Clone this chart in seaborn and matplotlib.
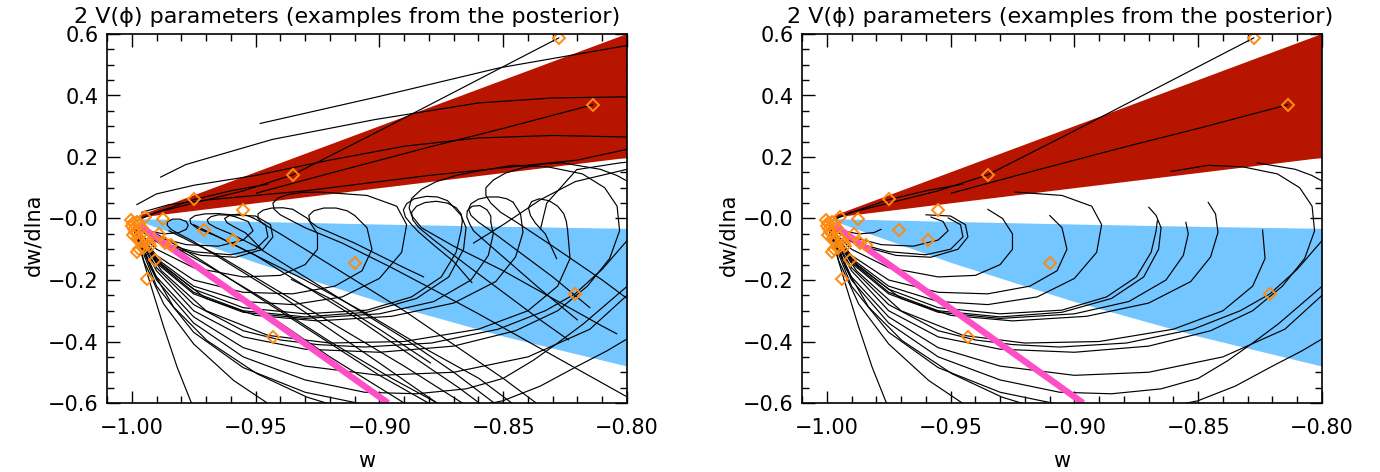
import numpy as np
import pandas as pd
import matplotlib
matplotlib.use("Agg")
import matplotlib.pyplot as plt
import seaborn as sns
from matplotlib.ticker import FixedLocator, FixedFormatter, MultipleLocator

sns.set_theme(style="white")
plt.rcParams["font.family"] = ["DejaVu Sans"]

# ---------------- text / ticks ----------------
TITLE = "2 V(ϕ) parameters (examples from the posterior)"
XLABEL = "w"
YLABEL = "dw/dlna"
XTICKS = [-1.00, -0.95, -0.90, -0.85, -0.80]
XTICK_LABELS = ["−1.00", "−0.95", "−0.90", "−0.85", "−0.80"]
YTICKS = [0.6, 0.4, 0.2, 0.0, -0.2, -0.4, -0.6]
YTICK_LABELS = ["0.6", "0.4", "0.2", "−0.0", "−0.2", "−0.4", "−0.6"]

# ---------------- regions ----------------
THAW_W = [-1.0, -0.80, -0.80]
THAW_Y = [0.0, 0.60, 0.197]
FREEZE_W = [-1.0, -0.95, -0.90, -0.85, -0.80]
FREEZE_LO = [0.0, -0.1425, -0.27, -0.3825, -0.48]
FREEZE_HI = [0.0, -0.0095, -0.018, -0.0255, -0.032]
MAGENTA_W = [-0.9965, -0.8965]
MAGENTA_Y = [-0.025, -0.60]

# ---------------- trajectories shown in both panels ----------------
STEEP_CURVES = [
    [(-0.9992, -0.017), (-0.9965, -0.104), (-0.9925, -0.2125), (-0.9871, -0.353), (-0.9817, -0.483), (-0.9763, -0.592), (-0.9745, -0.625)],
    [(-0.9986, -0.023), (-0.9952, -0.137), (-0.9871, -0.278), (-0.975, -0.408), (-0.9588, -0.527), (-0.9427, -0.614)],
    [(-0.9979, -0.028), (-0.9925, -0.158), (-0.9831, -0.288), (-0.9696, -0.397), (-0.9494, -0.505), (-0.9292, -0.581), (-0.9158, -0.614)],
]

DIP_ARCS = [
    [(-0.999, -0.02), (-0.994, -0.04), (-0.987, -0.05), (-0.981, -0.046), (-0.978, -0.035)],
    [(-0.999, -0.02), (-0.99, -0.06), (-0.978, -0.085), (-0.965, -0.09), (-0.955, -0.07), (-0.951, -0.04), (-0.953, -0.01), (-0.958, 0.005)],
    [(-0.999, -0.025), (-0.99, -0.075), (-0.975, -0.108), (-0.96, -0.118), (-0.95, -0.1), (-0.945, -0.06), (-0.946, -0.02), (-0.951, 0.002)],
    [(-0.999, -0.025), (-0.988, -0.085), (-0.972, -0.12), (-0.958, -0.126), (-0.947, -0.1), (-0.943, -0.06), (-0.944, -0.02), (-0.95, 0.008), (-0.96, 0.012)],
    [(-0.999, -0.03), (-0.99, -0.1), (-0.975, -0.16), (-0.955, -0.19), (-0.94, -0.185), (-0.93, -0.15), (-0.925, -0.1), (-0.925, -0.05), (-0.929, 0.0), (-0.935, 0.03)],
    [(-0.999, -0.03), (-0.99, -0.12), (-0.975, -0.2), (-0.955, -0.24), (-0.935, -0.245), (-0.918, -0.22), (-0.907, -0.17), (-0.903, -0.1), (-0.905, -0.03), (-0.91, 0.01)],
    [(-0.999, -0.03), (-0.99, -0.13), (-0.975, -0.22), (-0.955, -0.27), (-0.935, -0.28), (-0.915, -0.255), (-0.9, -0.195), (-0.891, -0.11), (-0.889, -0.02), (-0.893, 0.04), (-0.905, 0.075), (-0.924, 0.086)],
    [(-0.999, -0.03), (-0.99, -0.14), (-0.975, -0.24), (-0.955, -0.3), (-0.93, -0.32), (-0.905, -0.305), (-0.885, -0.26), (-0.872, -0.19), (-0.866, -0.1), (-0.865, -0.03), (-0.867, 0.01), (-0.87, 0.037)],
    [(-0.999, -0.03), (-0.99, -0.135), (-0.975, -0.23), (-0.955, -0.29), (-0.93, -0.31), (-0.905, -0.298), (-0.887, -0.255), (-0.875, -0.19), (-0.869, -0.11), (-0.867, -0.04), (-0.8665, -0.007)],
    [(-0.999, -0.03), (-0.99, -0.145), (-0.975, -0.245), (-0.955, -0.305), (-0.93, -0.325), (-0.9, -0.31), (-0.878, -0.27), (-0.863, -0.2), (-0.856, -0.12), (-0.854, -0.05), (-0.855, -0.012)],
    [(-0.999, -0.03), (-0.988, -0.15), (-0.97, -0.26), (-0.95, -0.315), (-0.925, -0.333), (-0.895, -0.318), (-0.87, -0.275), (-0.853, -0.205), (-0.845, -0.125), (-0.842, -0.045), (-0.843, 0.015), (-0.846, 0.053)],
    [(-0.999, -0.035), (-0.988, -0.17), (-0.97, -0.3), (-0.945, -0.38), (-0.92, -0.405), (-0.89, -0.4), (-0.86, -0.36), (-0.84, -0.3), (-0.828, -0.22), (-0.823, -0.13), (-0.824, -0.037)],
    [(-0.999, -0.035), (-0.99, -0.16), (-0.975, -0.28), (-0.955, -0.365), (-0.94, -0.395), (-0.925, -0.41), (-0.906, -0.418), (-0.879, -0.405), (-0.852, -0.36), (-0.833, -0.3), (-0.821, -0.245), (-0.81, -0.165), (-0.80, -0.072)],
    [(-0.999, -0.035), (-0.99, -0.17), (-0.975, -0.3), (-0.955, -0.385), (-0.93, -0.425), (-0.9, -0.435), (-0.87, -0.415), (-0.845, -0.365), (-0.828, -0.3), (-0.816, -0.22), (-0.807, -0.13), (-0.803, -0.04), (-0.804, 0.04), (-0.809, 0.1), (-0.818, 0.145), (-0.832, 0.168), (-0.846, 0.173), (-0.861, 0.153)],
    [(-0.999, -0.04), (-0.99, -0.2), (-0.975, -0.34), (-0.955, -0.45), (-0.93, -0.525), (-0.906, -0.565), (-0.885, -0.57), (-0.865, -0.554), (-0.85, -0.52), (-0.838, -0.462), (-0.828, -0.405), (-0.8176, -0.3425), (-0.7988, -0.2125)],
    [(-0.999, -0.04), (-0.99, -0.22), (-0.975, -0.37), (-0.955, -0.485), (-0.93, -0.565), (-0.9, -0.615), (-0.87, -0.625), (-0.8502, -0.593), (-0.835, -0.545), (-0.82, -0.48), (-0.808, -0.43), (-0.7988, -0.386)],
    [(-0.999, -0.038), (-0.99, -0.19), (-0.975, -0.32), (-0.955, -0.42), (-0.93, -0.48), (-0.9, -0.51), (-0.87, -0.5), (-0.84, -0.45), (-0.815, -0.36), (-0.8, -0.25), (-0.79, -0.1), (-0.788, 0.05), (-0.795, 0.1), (-0.8041, 0.14), (-0.8108, 0.16), (-0.8262, 0.181)],
]

THAW_CURVES = [
    [(-0.998, -0.005), (-0.99, 0.02), (-0.975, 0.05), (-0.955, 0.09), (-0.935, 0.142), (-0.9, 0.285), (-0.86, 0.452), (-0.8275, 0.5875)],
    [(-0.9497, 0.0824), (-0.92, 0.147), (-0.88, 0.232), (-0.85, 0.293), (-0.8138, 0.370)],
    [(-0.999, -0.01), (-0.99, 0.02), (-0.9747, 0.062), (-0.96, 0.09), (-0.945, 0.112)],
]

# ---------------- extra (later-time) pieces shown only in the left panel ----------------
LEFT_LOOPS = [
    [(-0.978, -0.035), (-0.9772, -0.022), (-0.978, -0.01), (-0.9805, -0.002), (-0.9835, -0.002), (-0.9855, -0.01), (-0.9857, -0.022), (-0.984, -0.036), (-0.981, -0.05), (-0.975, -0.075), (-0.96, -0.15), (-0.94, -0.25), (-0.92, -0.36), (-0.9, -0.47), (-0.875, -0.61)],
    [(-0.958, 0.005), (-0.961, 0.011), (-0.965, 0.012), (-0.968, 0.006), (-0.9695, -0.004), (-0.969, -0.016), (-0.966, -0.03), (-0.96, -0.05), (-0.95, -0.09), (-0.93, -0.19), (-0.91, -0.29), (-0.89, -0.39), (-0.87, -0.5), (-0.852, -0.61)],
    [(-0.951, 0.002), (-0.9535, 0.01), (-0.957, 0.014), (-0.9605, 0.01), (-0.9625, 0.0), (-0.9615, -0.014), (-0.958, -0.03), (-0.954, -0.047), (-0.9475, -0.1008)],
    [(-0.96, 0.012), (-0.965, 0.016), (-0.9705, 0.015), (-0.9745, 0.009), (-0.9765, -0.002), (-0.9762, -0.016), (-0.9735, -0.032), (-0.965, -0.06), (-0.95, -0.12), (-0.93, -0.22), (-0.91, -0.32), (-0.89, -0.43), (-0.868, -0.55), (-0.858, -0.61)],
    [(-0.935, 0.03), (-0.939, 0.035), (-0.9435, 0.034), (-0.947, 0.027), (-0.949, 0.015), (-0.949, 0.0), (-0.947, -0.017), (-0.94, -0.05), (-0.93, -0.1), (-0.91, -0.2), (-0.89, -0.3), (-0.87, -0.41), (-0.85, -0.52), (-0.835, -0.61)],
    [(-0.91, 0.01), (-0.913, 0.025), (-0.9175, 0.034), (-0.9225, 0.034), (-0.9265, 0.025), (-0.9285, 0.01), (-0.928, -0.01), (-0.925, -0.028), (-0.92, -0.045), (-0.91, -0.08), (-0.89, -0.16), (-0.8821, -0.19)],
    [(-0.924, 0.086), (-0.931, 0.085), (-0.937, 0.078), (-0.941, 0.066), (-0.943, 0.05), (-0.9425, 0.03), (-0.94, 0.012), (-0.936, -0.005), (-0.93, -0.03), (-0.915, -0.08), (-0.895, -0.16), (-0.875, -0.245), (-0.86, -0.31), (-0.84, -0.4), (-0.82, -0.49), (-0.80, -0.58)],
    [(-0.87, 0.037), (-0.8725, 0.058), (-0.8765, 0.07), (-0.881, 0.072), (-0.886, 0.064), (-0.889, 0.048), (-0.8903, 0.028), (-0.8895, 0.005), (-0.887, -0.02), (-0.884, -0.045), (-0.8775, -0.09), (-0.87, -0.14), (-0.8626, -0.209)],
    [(-0.8665, -0.007), (-0.867, 0.015), (-0.869, 0.035), (-0.8725, 0.05), (-0.877, 0.056), (-0.8815, 0.052), (-0.885, 0.04), (-0.887, 0.02), (-0.8865, -0.005), (-0.884, -0.03), (-0.878, -0.07), (-0.865, -0.15), (-0.85, -0.24), (-0.835, -0.33), (-0.8236, -0.395)],
    [(-0.855, -0.012), (-0.855, 0.008), (-0.8565, 0.028), (-0.8594, 0.042), (-0.8625, 0.04), (-0.8645, 0.025), (-0.8647, 0.005), (-0.8635, -0.018), (-0.862, -0.04), (-0.855, -0.09), (-0.845, -0.16), (-0.835, -0.23), (-0.82, -0.33)],
    [(-0.846, 0.053), (-0.8485, 0.064), (-0.852, 0.07), (-0.856, 0.07), (-0.86, 0.063), (-0.863, 0.048), (-0.864, 0.03), (-0.863, 0.01), (-0.86, -0.012), (-0.855, -0.04), (-0.845, -0.1), (-0.83, -0.19), (-0.815, -0.29)],
    [(-0.824, -0.037), (-0.8245, -0.01), (-0.8255, 0.015), (-0.828, 0.04), (-0.8315, 0.058), (-0.8355, 0.064), (-0.8385, 0.055), (-0.8398, 0.035), (-0.839, 0.01), (-0.837, -0.015), (-0.833, -0.05), (-0.8284, -0.131)],
    [(-0.861, 0.153), (-0.869, 0.14), (-0.877, 0.12), (-0.883, 0.095), (-0.887, 0.065), (-0.888, 0.035), (-0.887, 0.01), (-0.883, -0.03), (-0.87, -0.09), (-0.85, -0.17), (-0.83, -0.26), (-0.81, -0.35), (-0.8041, -0.375)],
    [(-0.8262, 0.181), (-0.834, 0.177), (-0.842, 0.165), (-0.849, 0.148), (-0.854, 0.125), (-0.857, 0.1), (-0.857, 0.075), (-0.855, 0.05), (-0.851, 0.02), (-0.845, -0.01), (-0.83, -0.09), (-0.81, -0.2), (-0.80, -0.26)],
]

LEFT_LONG_TAILS = [
    [(-0.992, -0.06), (-0.98, -0.12), (-0.96, -0.23), (-0.94, -0.34), (-0.92, -0.45), (-0.89, -0.6), (-0.887, -0.62)],
    [(-0.99, -0.05), (-0.975, -0.12), (-0.95, -0.25), (-0.925, -0.38), (-0.9, -0.51), (-0.8758, -0.62)],
    [(-0.988, -0.07), (-0.97, -0.15), (-0.945, -0.27), (-0.92, -0.4), (-0.895, -0.52), (-0.872, -0.62)],
    [(-0.985, -0.04), (-0.965, -0.12), (-0.94, -0.24), (-0.915, -0.36), (-0.89, -0.48), (-0.8626, -0.62)],
    [(-0.975, -0.02), (-0.955, -0.1), (-0.93, -0.2), (-0.905, -0.31), (-0.88, -0.43), (-0.8598, -0.52), (-0.8432, -0.62)],
    [(-0.9356, -0.198), (-0.92, -0.26), (-0.9, -0.36), (-0.8793, -0.47)],
]

LEFT_UPPER = [
    [(-0.9482, 0.309), (-0.9, 0.397), (-0.8515, 0.49), (-0.80, 0.5626)],
    [(-0.9884, 0.1344), (-0.9781, 0.1756), (-0.9433, 0.257), (-0.9016, 0.322), (-0.8598, 0.376), (-0.83, 0.392), (-0.80, 0.3957)],
    [(-0.998, 0.045), (-0.99, 0.08), (-0.975, 0.108), (-0.95, 0.14), (-0.92, 0.19), (-0.89, 0.235), (-0.86, 0.262), (-0.83, 0.27), (-0.80, 0.265)],
    [(-0.996, 0.02), (-0.985, 0.045), (-0.97, 0.06), (-0.95, 0.075), (-0.93, 0.09), (-0.91, 0.11), (-0.88, 0.14), (-0.85, 0.165), (-0.82, 0.19), (-0.80, 0.225)],
    [(-0.862, -0.08), (-0.85, -0.02), (-0.8348, 0.0618), (-0.8209, 0.12), (-0.80, 0.16)],
    [(-0.835, -0.036), (-0.8324, 0.05), (-0.8203, 0.159), (-0.8028, 0.181), (-0.79, 0.19)],
]

# ---------------- present-day points (diamonds) ----------------
DIAMOND_W = [-0.8275, -0.8138, -0.9348, -0.9747, -0.9551, -0.9707, -0.9592, -0.9097, -0.9431, -0.821,
             -0.9948, -0.9875, -0.9889, -0.984, -0.9864, -0.9907, -0.9938,
             -1.0005, -0.9995, -1.0, -0.999, -0.998, -0.9985, -0.9995, -0.997, -0.996, -0.9975,
             -0.9965, -0.995, -0.994, -0.993, -0.9955, -0.997, -0.998, -0.9925]
DIAMOND_Y = [0.5875, 0.370, 0.142, 0.062, 0.029, -0.039, -0.069, -0.145, -0.386, -0.245,
             0.004, -0.003, -0.05, -0.085, -0.081, -0.134, -0.196,
             -0.005, -0.015, -0.025, -0.035, -0.01, -0.045, -0.055, -0.02, -0.03, -0.065,
             -0.075, -0.06, -0.07, -0.08, -0.095, -0.1, -0.11, -0.09]

RED = "#b81500"
BLUE = "#73c6ff"
MAGENTA = "#ff4fc6"
ORANGE = "#ff8a10"

W, H = 1380, 472
fig = plt.figure(figsize=(W / 100, H / 100), dpi=100)
fig.patch.set_facecolor("white")


def draw_curves(ax, curves):
    for c in curves:
        df = pd.DataFrame(c, columns=["w", "y"])
        sns.lineplot(data=df, x="w", y="y", sort=False, estimator=None,
                     color="black", lw=0.85, ax=ax, zorder=3)


def panel(x0, extended, title_cx):
    ax = fig.add_axes([x0 / W, 1 - 403 / H, 520 / W, 369 / H])
    ax.set_facecolor("white")
    ax.fill(THAW_W, THAW_Y, color=RED, lw=0, zorder=1)
    ax.fill_between(FREEZE_W, FREEZE_LO, FREEZE_HI, color=BLUE, lw=0, zorder=1)
    draw_curves(ax, STEEP_CURVES + DIP_ARCS + THAW_CURVES)
    if extended:
        draw_curves(ax, LEFT_LOOPS + LEFT_LONG_TAILS + LEFT_UPPER)
    sns.lineplot(x=MAGENTA_W, y=MAGENTA_Y, color=MAGENTA, lw=4.6, ax=ax,
                 zorder=4, solid_capstyle="butt")
    ax.plot(DIAMOND_W, DIAMOND_Y, ls="none", marker="D", ms=5.8, mfc="none",
            mec=ORANGE, mew=1.4, zorder=5)
    ax.set_xlim(-1.01, -0.80)
    ax.set_ylim(-0.6, 0.6)
    ax.xaxis.set_major_locator(FixedLocator(XTICKS))
    ax.xaxis.set_major_formatter(FixedFormatter(XTICK_LABELS))
    ax.xaxis.set_minor_locator(MultipleLocator(0.01))
    ax.yaxis.set_major_locator(FixedLocator(YTICKS))
    ax.yaxis.set_major_formatter(FixedFormatter(YTICK_LABELS))
    ax.yaxis.set_minor_locator(MultipleLocator(0.05))
    ax.tick_params(which="both", direction="in", top=True, right=True,
                   bottom=True, left=True, colors="black", labelsize=15,
                   width=1.0)
    ax.tick_params(which="major", length=9)
    ax.tick_params(which="minor", length=5)
    ax.tick_params(axis="x", pad=11)
    ax.tick_params(axis="y", pad=6)
    for s in ax.spines.values():
        s.set_color("black")
        s.set_linewidth(1.2)
        s.set_zorder(6)
    ax.set_xlabel("")
    ax.set_ylabel("")
    fig.text(title_cx / W, 1 - 17 / H, TITLE, ha="center", va="center",
             fontsize=16, color="black")
    fig.text((x0 + 260) / W, 1 - 461 / H, XLABEL, ha="center", va="center",
             fontsize=15, color="black")
    fig.text((x0 - 74) / W, 1 - 235 / H, YLABEL, ha="center", va="center",
             rotation=90, fontsize=15, color="black")
    return ax


panel(107, True, 347)
panel(802, False, 1060)

fig.savefig("out.png", dpi=100, facecolor="white")
